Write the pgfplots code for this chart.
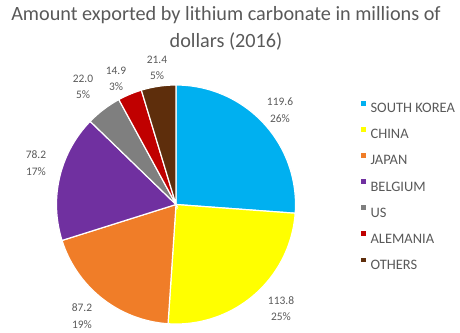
\documentclass[border=0pt]{standalone}
\usepackage{pgfplots}
\pgfplotsset{compat=1.18}
\usepackage{fontspec}
\setmainfont{Carlito}
\definecolor{cSK}{HTML}{00B0F0}
\definecolor{cCN}{HTML}{FFFF00}
\definecolor{cJP}{HTML}{F07D28}
\definecolor{cBE}{HTML}{7030A0}
\definecolor{cUS}{HTML}{7F7F7F}
\definecolor{cAL}{HTML}{C00000}
\definecolor{cOT}{HTML}{5E2E0C}
\definecolor{txt}{HTML}{595959}
% values (millions of dollars)
\def\vSK{119.6}\def\vCN{113.8}\def\vJP{87.2}\def\vBE{78.2}\def\vUS{22.0}\def\vAL{14.9}\def\vOT{21.4}
\pgfmathsetmacro{\tot}{\vSK+\vCN+\vJP+\vBE+\vUS+\vAL+\vOT}
\pgfmathsetmacro{\aA}{0}
\pgfmathsetmacro{\aB}{(\vSK)/\tot*360}
\pgfmathsetmacro{\aC}{(\vSK+\vCN)/\tot*360}
\pgfmathsetmacro{\aD}{(\vSK+\vCN+\vJP)/\tot*360}
\pgfmathsetmacro{\aE}{(\vSK+\vCN+\vJP+\vBE)/\tot*360}
\pgfmathsetmacro{\aF}{(\vSK+\vCN+\vJP+\vBE+\vUS)/\tot*360}
\pgfmathsetmacro{\aG}{(\vSK+\vCN+\vJP+\vBE+\vUS+\vAL)/\tot*360}
\pgfmathsetmacro{\aH}{360}
\def\cx{176}\def\cy{127.5}\def\rr{119.5}
\begin{document}
\begin{tikzpicture}
\begin{axis}[
  scale only axis, width=460bp, height=332bp,
  xmin=0, xmax=460, ymin=0, ymax=332,
  axis line style={draw=none}, ticks=none, clip=false,
  legend style={draw=none, fill=none, inner sep=0pt, at={(axis cs:361,231)}, anchor=north west,
    font=\fontsize{14.5}{15}\selectfont\color{txt}, row sep=14.4bp,
    nodes={inner sep=0pt, text height=9.5bp, text depth=0bp},
    /tikz/every odd column/.append style={column sep=5bp}},
  legend cell align=left,
  legend image code/.code={\fill[#1,draw=none] (0bp,2.5bp) rectangle (4.4bp,6.9bp);},
]
\addplot[fill=cSK, draw=white, line width=1.2bp, domain=\aA:\aB, samples=80, variable=\t]
  ({\cx+\rr*sin(\t)},{\cy+\rr*cos(\t)}) -- (axis cs:\cx,\cy) -- cycle;
\addlegendentry{SOUTH KOREA}
\addplot[fill=cCN, draw=white, line width=1.2bp, domain=\aB:\aC, samples=80, variable=\t]
  ({\cx+\rr*sin(\t)},{\cy+\rr*cos(\t)}) -- (axis cs:\cx,\cy) -- cycle;
\addlegendentry{CHINA}
\addplot[fill=cJP, draw=white, line width=1.2bp, domain=\aC:\aD, samples=80, variable=\t]
  ({\cx+\rr*sin(\t)},{\cy+\rr*cos(\t)}) -- (axis cs:\cx,\cy) -- cycle;
\addlegendentry{JAPAN}
\addplot[fill=cBE, draw=white, line width=1.2bp, domain=\aD:\aE, samples=80, variable=\t]
  ({\cx+\rr*sin(\t)},{\cy+\rr*cos(\t)}) -- (axis cs:\cx,\cy) -- cycle;
\addlegendentry{BELGIUM}
\addplot[fill=cUS, draw=white, line width=1.2bp, domain=\aE:\aF, samples=40, variable=\t]
  ({\cx+\rr*sin(\t)},{\cy+\rr*cos(\t)}) -- (axis cs:\cx,\cy) -- cycle;
\addlegendentry{US}
\addplot[fill=cAL, draw=white, line width=1.2bp, domain=\aF:\aG, samples=40, variable=\t]
  ({\cx+\rr*sin(\t)},{\cy+\rr*cos(\t)}) -- (axis cs:\cx,\cy) -- cycle;
\addlegendentry{ALEMANIA}
\addplot[fill=cOT, draw=white, line width=1.2bp, domain=\aG:\aH, samples=40, variable=\t]
  ({\cx+\rr*sin(\t)},{\cy+\rr*cos(\t)}) -- (axis cs:\cx,\cy) -- cycle;
\addlegendentry{OTHERS}
% data labels
\tikzset{lab/.style={align=center, font=\fontsize{11.5}{16.5}\selectfont, text=txt, inner sep=0pt}}
\node[lab] at (axis cs:280,222) {119.6\\26\%};
\node[lab] at (axis cs:281,23.5) {113.8\\25\%};
\node[lab] at (axis cs:82,16) {87.2\\19\%};
\node[lab] at (axis cs:36,169) {78.2\\17\%};
\node[lab] at (axis cs:83,245) {22.0\\5\%};
\node[lab] at (axis cs:116,253) {14.9\\3\%};
\node[lab] at (axis cs:157,264) {21.4\\5\%};
% title
\node[anchor=base, font=\fontsize{20.3}{24}\selectfont, text=txt, inner sep=0pt] at (axis cs:226,311.3)
  {Amount exported by lithium carbonate in millions of};
\node[anchor=base, font=\fontsize{20.3}{24}\selectfont, text=txt, inner sep=0pt] at (axis cs:226,284.3)
  {dollars (2016)};
\end{axis}
\end{tikzpicture}
\end{document}
